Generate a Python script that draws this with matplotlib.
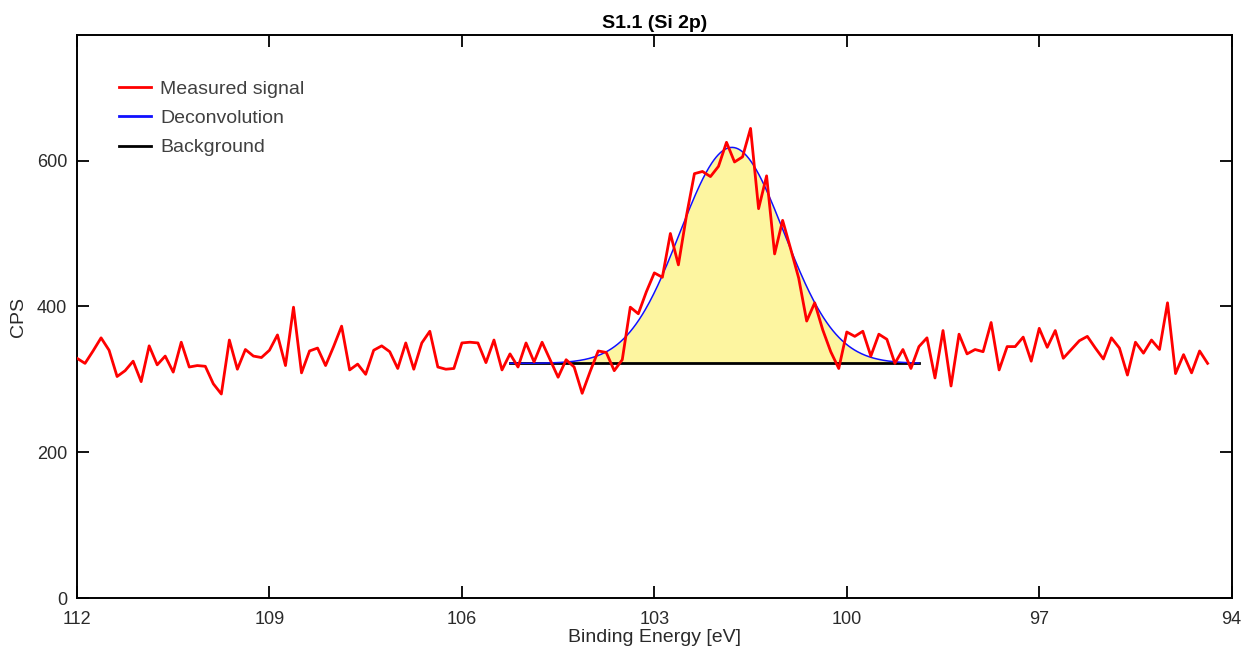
import numpy as np
import matplotlib
matplotlib.use("Agg")
import matplotlib.pyplot as plt
from matplotlib.lines import Line2D

plt.rcParams['font.family'] = ['Liberation Sans', 'DejaVu Sans']

# binding energy grid (eV), 0.125 eV step
e_start = 112.0
e_step = 0.125

# measured counts
cps = [329, 322, 339, 357, 340, 304, 312, 325, 297, 346,
       320, 332, 310, 351, 317, 319, 318, 294, 280, 354,
       314, 341, 332, 330, 340, 361, 319, 399, 309, 339,
       343, 319, 345, 373, 313, 321, 307, 340, 346, 338,
       315, 350, 314, 350, 366, 317, 314, 315, 350, 351,
       350, 323, 354, 313, 335, 317, 350, 324, 351, 327,
       303, 327, 317, 281, 311, 339, 337, 312, 327, 399,
       390, 420, 446, 440, 500, 457, 524, 582, 585, 578,
       592, 625, 598, 605, 644, 534, 579, 472, 518, 479,
       439, 380, 405, 368, 338, 315, 365, 359, 366, 332,
       362, 355, 322, 341, 315, 345, 357, 302, 367, 291,
       362, 335, 341, 338, 378, 313, 345, 345, 358, 325,
       370, 344, 367, 329, 341, 353, 359, 343, 328, 357,
       343, 306, 351, 336, 354, 341, 405, 308, 334, 309,
       339, 322]

# fitted peak and background
bg_level = 322
bg_range = (105.25, 98.875)
peak_center = 101.79
peak_height = 296
peak_sigma = 0.81

legend_labels = ['Measured signal', 'Deconvolution', 'Background']
legend_colors = ['#ff0000', '#1010ff', 'black']

energy = e_start - e_step * np.arange(len(cps))

fig = plt.figure(figsize=(12.46, 6.57), dpi=100)
ax = fig.add_axes([0.0618, 0.0893, 0.9267, 0.8574])

e_fit = np.linspace(bg_range[0], bg_range[1], 400)
bg = np.full_like(e_fit, bg_level, dtype=float)
fit = bg + peak_height * np.exp(-(e_fit - peak_center) ** 2 / (2 * peak_sigma ** 2))

ax.fill_between(e_fit, bg, fit, color='#fdf5a0', lw=0, zorder=1)
ax.plot(e_fit, fit, color='#1010ff', lw=1.1, zorder=3)
ax.plot(e_fit, bg, color='black', lw=2.0, zorder=2)
ax.plot(energy, cps, color='#ff0000', lw=2.0, zorder=4)

ax.set_xlim(112, 94)
ax.set_ylim(0, 772)
ax.set_xticks([112, 109, 106, 103, 100, 97, 94])
ax.set_yticks([0, 200, 400, 600])

ax.tick_params(direction='in', length=8.5, width=1.3, top=True, right=True,
               labelsize=13, labelcolor='#2a2a2a', pad=7)
ax.tick_params(axis='x', pad=9)
for s in ax.spines.values():
    s.set_linewidth(1.4)

ax.set_title('S1.1 (Si 2p)', fontsize=14, fontweight='bold', pad=5)
ax.set_xlabel('Binding Energy [eV]', fontsize=14, color='#2a2a2a', labelpad=1)
ax.set_ylabel('CPS', fontsize=14, color='#2a2a2a', labelpad=7)

handles = [Line2D([], [], color=c, lw=2.0) for c in legend_colors]
leg = ax.legend(handles, legend_labels,
                loc='upper left', bbox_to_anchor=(0.028, 0.937), frameon=False,
                fontsize=14, handlelength=1.65, handletextpad=0.45,
                labelspacing=0.6, borderpad=0)
for t in leg.get_texts():
    t.set_color('#404040')

fig.savefig('out.png', dpi=100)
